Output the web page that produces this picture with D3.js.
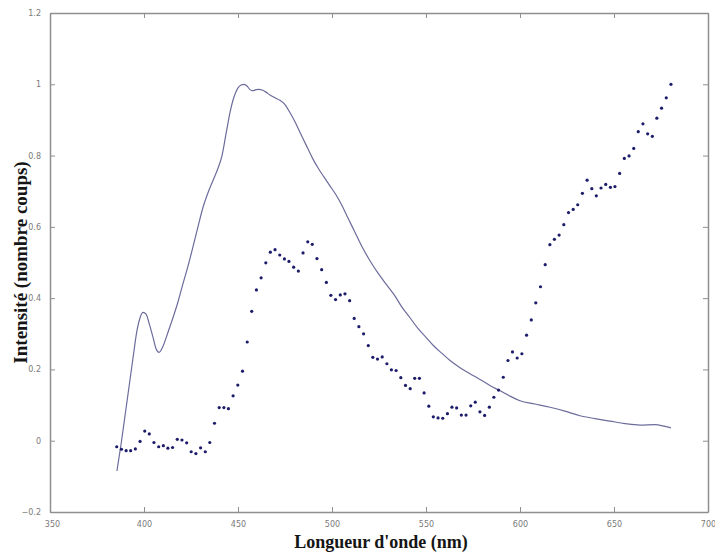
<!DOCTYPE html>
<html>
<head>
<meta charset="utf-8">
<script src="https://cdn.jsdelivr.net/npm/d3@7"></script>
<style>
  body { margin: 0; background: #fff; }
  .tick text { font-family: "DejaVu Sans", sans-serif; font-size: 8px; fill: #7a7a7a; }
  .label { font-family: "Liberation Serif", serif; font-size: 19px; font-weight: bold; fill: #151515; }
</style>
</head>
<body>
<script>
// Emission spectrum: measured points (dots) and the reference curve (line)
var dotWavelengths = [385.5, 388.0, 390.5, 392.9, 395.4, 397.9, 400.4, 402.8, 405.3, 407.8,
  410.3, 412.7, 415.2, 417.7, 420.2, 422.7, 425.1, 427.6, 430.1, 432.6,
  435.0, 437.5, 440.0, 442.5, 444.9, 447.4, 449.9, 452.4, 454.9, 457.3,
  459.8, 462.3, 464.8, 467.2, 469.7, 472.2, 474.7, 477.1, 479.6, 482.1,
  484.6, 487.1, 489.5, 492.0, 494.5, 497.0, 499.4, 501.9, 504.4, 506.9,
  509.4, 511.8, 514.3, 516.8, 519.3, 521.7, 524.2, 526.7, 529.2, 531.6,
  534.1, 536.6, 539.1, 541.6, 544.0, 546.5, 549.0, 551.5, 553.9, 556.4,
  558.9, 561.4, 563.8, 566.3, 568.8, 571.3, 573.8, 576.2, 578.7, 581.2,
  583.7, 586.1, 588.6, 591.1, 593.6, 596.0, 598.5, 601.0, 603.5, 606.0,
  608.4, 610.9, 613.4, 615.9, 618.3, 620.8, 623.3, 625.8, 628.3, 630.7,
  633.2, 635.7, 638.2, 640.6, 643.1, 645.6, 648.1, 650.5, 653.0, 655.5,
  658.0, 660.5, 662.9, 665.4, 667.9, 670.4, 672.8, 675.3, 677.8, 680.3];
var dotValues = [-0.017, -0.024, -0.028, -0.028, -0.023, -0.002, 0.027, 0.019, -0.005, -0.017,
  -0.014, -0.021, -0.019, 0.004, 0.002, -0.006, -0.031, -0.036, -0.020, -0.031,
  -0.005, 0.049, 0.093, 0.093, 0.090, 0.126, 0.156, 0.195, 0.277, 0.363,
  0.423, 0.457, 0.499, 0.529, 0.536, 0.521, 0.510, 0.503, 0.487, 0.476,
  0.527, 0.558, 0.551, 0.511, 0.480, 0.444, 0.408, 0.396, 0.409, 0.412,
  0.393, 0.343, 0.320, 0.300, 0.267, 0.234, 0.229, 0.235, 0.216, 0.199,
  0.197, 0.177, 0.155, 0.146, 0.175, 0.175, 0.134, 0.097, 0.067, 0.064,
  0.063, 0.076, 0.094, 0.092, 0.072, 0.072, 0.098, 0.108, 0.081, 0.071,
  0.094, 0.122, 0.142, 0.178, 0.225, 0.249, 0.232, 0.244, 0.296, 0.339,
  0.387, 0.432, 0.494, 0.550, 0.565, 0.577, 0.606, 0.640, 0.649, 0.662,
  0.694, 0.731, 0.707, 0.687, 0.709, 0.719, 0.711, 0.713, 0.750, 0.792,
  0.799, 0.820, 0.867, 0.889, 0.861, 0.854, 0.905, 0.933, 0.962, 1.000];

var lineWavelengths = [385.6, 387.8, 389.9, 392.0, 394.1, 396.3, 397.9, 399.5, 401.1, 402.7,
  404.8, 406.4, 408.0, 410.1, 412.8, 415.4, 418.1, 420.7, 423.4, 426.1,
  428.7, 431.4, 434.0, 436.7, 439.4, 441.5, 443.6, 445.7, 447.9, 450.0,
  451.6, 453.2, 454.8, 456.4, 458.0, 459.6, 461.2, 462.8, 464.9, 467.0,
  469.7, 472.3, 475.0, 477.7, 480.3, 483.0, 486.2, 489.4, 492.6, 495.7,
  498.9, 502.1, 505.3, 508.5, 512.2, 515.9, 520.2, 524.5, 528.7, 533.0,
  537.2, 541.5, 545.7, 550.0, 554.3, 558.5, 562.8, 568.1, 573.4, 578.7,
  584.0, 589.4, 594.7, 600.0, 608.0, 616.0, 623.9, 631.9, 639.9, 647.9,
  655.9, 663.8, 671.8, 677.1, 680.3];
var lineValues = [-0.085, -0.01, 0.07, 0.15, 0.23, 0.31, 0.345, 0.36, 0.355, 0.33,
  0.29, 0.258, 0.248, 0.265, 0.305, 0.345, 0.39, 0.44, 0.49, 0.545,
  0.60, 0.655, 0.695, 0.73, 0.765, 0.80, 0.86, 0.92, 0.965, 0.99,
  0.998, 1.0, 0.995, 0.985, 0.982, 0.985, 0.986, 0.984, 0.978, 0.97,
  0.962, 0.955, 0.943, 0.92, 0.895, 0.865, 0.83, 0.795, 0.765, 0.74,
  0.715, 0.69, 0.66, 0.625, 0.585, 0.545, 0.505, 0.47, 0.44, 0.41,
  0.375, 0.345, 0.315, 0.29, 0.265, 0.245, 0.225, 0.205, 0.188, 0.172,
  0.155, 0.14, 0.125, 0.112, 0.103, 0.094, 0.083, 0.07, 0.062, 0.055,
  0.048, 0.044, 0.045, 0.04, 0.036];

var xTicks = [350, 400, 450, 500, 550, 600, 650, 700];
var yTicks = [-0.2, 0, 0.2, 0.4, 0.6, 0.8, 1, 1.2];

var margin = {top: 13, right: 7, bottom: 42, left: 50},
    width = 715 - margin.left - margin.right,
    height = 554 - margin.top - margin.bottom;

var svg = d3.select("body")
  .append("svg")
    .attr("width", 715)
    .attr("height", 554)
  .append("g")
    .attr("transform", "translate(" + margin.left + "," + margin.top + ")");

var xScale = d3.scaleLinear().domain([350, 700]).range([0, width]);
var yScale = d3.scaleLinear().domain([-0.2, 1.2]).range([height, 0]);

var axisColor = "#8f8f8f";

// axes with inward ticks (matlab style box)
function styleAxis(g) {
  g.select(".domain").attr("stroke", axisColor).attr("stroke-width", 1.5);
  g.selectAll(".tick line").attr("stroke", axisColor);
}

svg.append("g")
  .attr("transform", "translate(0," + height + ")")
  .call(d3.axisBottom(xScale).tickValues(xTicks).tickSizeInner(-5).tickSizeOuter(0).tickPadding(9)
        .tickFormat(d3.format("d")))
  .call(styleAxis);

svg.append("g")
  .call(d3.axisLeft(yScale).tickValues(yTicks).tickSizeInner(-5).tickSizeOuter(0).tickPadding(9)
        .tickFormat(function(d){ return d3.format("")(+d.toFixed(1)); }))
  .call(styleAxis);

svg.append("g")
  .call(d3.axisTop(xScale).tickValues(xTicks).tickSizeInner(-5).tickSizeOuter(0).tickFormat(""))
  .call(styleAxis);

svg.append("g")
  .attr("transform", "translate(" + width + ",0)")
  .call(d3.axisRight(yScale).tickValues(yTicks).tickSizeInner(-5).tickSizeOuter(0).tickFormat(""))
  .call(styleAxis);

// the "-0.2" and "350" labels sit on top of each other in the original
svg.selectAll(".tick text").filter(function(d){ return d === 350; }).attr("dx", "2");

var lineData = lineWavelengths.map(function(w, i){ return {x: w, y: lineValues[i]}; });
var dotData = dotWavelengths.map(function(w, i){ return {x: w, y: dotValues[i]}; });

var line_generator = d3.line()
  .x(function(d) { return xScale(d.x); })
  .y(function(d) { return yScale(d.y); })
  .curve(d3.curveMonotoneX);

svg.append("path")
  .datum(lineData)
  .attr("fill", "none")
  .attr("stroke", "#6c6c9c")
  .attr("stroke-width", 1.2)
  .attr("d", line_generator);

svg.selectAll("circle.dot")
  .data(dotData)
  .enter().append("circle")
    .attr("class", "dot")
    .attr("cx", function(d) { return xScale(d.x); })
    .attr("cy", function(d) { return yScale(d.y); })
    .attr("r", 1.6)
    .style("fill", "#1c1c6a");

// axis labels
svg.append("text")
  .attr("class", "label")
  .attr("x", width / 2 + 2)
  .attr("y", height + 36)
  .style("text-anchor", "middle")
  .style("font-size", "18px")
  .text("Longueur d'onde (nm)");

svg.append("text")
  .attr("class", "label")
  .attr("transform", "rotate(-90)")
  .attr("x", -height / 2)
  .attr("y", -23)
  .style("text-anchor", "middle")
  .text("Intensité (nombre coups)");
</script>
</body>
</html>
